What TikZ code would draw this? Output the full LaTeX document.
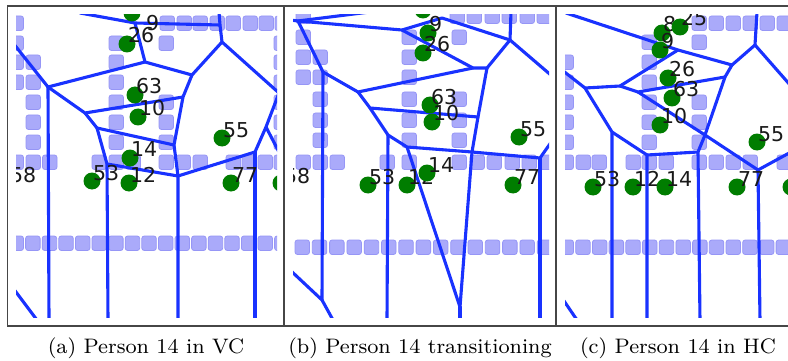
\documentclass[tikz,border=0pt]{standalone}
\usepackage{fontspec}
\newfontfamily\labfont{DejaVu Sans}
\usetikzlibrary{calc}
\definecolor{vorblue}{RGB}{25,50,255}
\definecolor{sqfill}{RGB}{170,170,250}
\definecolor{sqedge}{RGB}{150,150,246}
\definecolor{dotgreen}{RGB}{0,125,0}
\definecolor{framegray}{RGB}{70,70,70}
% blocks of floor tiles: every x of #1 with every y of #2
\newcommand\sqset[2]{\foreach \xx in {#1}{\foreach \yy in {#2}{\path[sq] (\xx,\yy) rectangle ++(14.5,14.5);}}}
% a row of tiles: start x, pitch, last index, y
\newcommand\sqrow[4]{\foreach \kk in {0,...,#3}{\path[sq] ({#1+#2*\kk},#4) rectangle ++(14.5,14.5);}}
% a person: name, x, y, number
\newcommand\person[4]{\node[pdot] (d#1) at (#2,#3) {}; \node[plab] (l#1) at ({#2+1},{#3-1}) {#4};}
\begin{document}
\begin{tikzpicture}[x=1pt,y=-1pt,
  sq/.style={fill=sqfill,draw=sqedge,line width=0.8pt,rounded corners=2.5pt},
  vor/.style={draw=vorblue,line width=3.1pt,line cap=round,line join=round},
  pdot/.style={circle,fill=dotgreen,draw=none,minimum size=17pt,inner sep=0pt},
  plab/.style={font={\labfont\fontsize{20.5}{20.5}\selectfont},anchor=base west,inner sep=0pt,text=black!90},
  panelframe/.style={draw=framegray,line width=1.7pt},
  captext/.style={font={\fontsize{8}{9.6}\selectfont},scale=2.62,anchor=base,inner sep=0pt}]
\useasboundingbox (0,0) rectangle (788,361);
\fill[white] (0,0) rectangle (788,361);

% ---------------- panel (a) ----------------
\begin{scope}
\clip (16,15) rectangle (277,317);
\sqset{160,177,193,210,226,243,259,275}{16}
\sqset{9}{16,36,55,75,155}
\sqset{26}{55,75,95,115,135,155}
\sqset{109}{36,55,75,95,115,135,155}
\sqset{159}{36,95,115,135,155}
\sqset{274}{36,55,75,95,115,135,155}
\sqset{42.5,92,126,176,193,226,242,258}{155}
\sqrow{9}{16.6}{16}{236}
\coordinate (a1) at (80,13);
\coordinate (a2) at (135,23);
\coordinate (a3) at (220,25);
\coordinate (a3t) at (219,12);
\coordinate (a4) at (222,42);
\coordinate (a5) at (192,75);
\coordinate (a6) at (279,93);
\coordinate (a7) at (145,62);
\coordinate (a8) at (48,87);
\coordinate (a0) at (13,43);
\coordinate (a9) at (183,97);
\coordinate (a10) at (85,113);
\coordinate (a11) at (97,128);
\coordinate (a12) at (174,145);
\coordinate (a13) at (178,176);
\coordinate (a14) at (107,164);
\coordinate (a15) at (255,152);
\coordinate (a16) at (266,127);
\coordinate (a16r) at (280,154);
\coordinate (a8b) at (49,320);
\coordinate (a14b) at (108,320);
\coordinate (a13b) at (178,320);
\coordinate (a15b) at (255,320);
\coordinate (a17) at (13,288);
\coordinate (a17b) at (37,320);
\draw[vor] (a1) -- (a2) -- (a3) -- (a4) -- (a6);
\draw[vor] (a3t) -- (a3);
\draw[vor] (a4) -- (a5) -- (a9) -- (a12) -- (a13) -- (a13b);
\draw[vor] (a2) -- (a7) -- (a5);
\draw[vor] (a0) -- (a8) -- (a7);
\draw[vor] (a8) -- (a8b);
\draw[vor] (a8) -- (a10) -- (a9);
\draw[vor] (a10) -- (a11) -- (a12);
\draw[vor] (a11) -- (a14) -- (a14b);
\draw[vor] (a14) -- (a13) -- (a15) -- (a16) -- (a6);
\draw[vor] (a16) -- (a16r);
\draw[vor] (a15) -- (a15b);
\draw[vor] (a17) -- (a17b);
\node[pdot] (atop) at (132,13) {};
\node[plab] (la9) at (146,31) {9};
\person{a26}{127}{44}{26}
\person{a63}{135}{95}{63}
\person{a10}{138}{117}{10}
\person{a14}{130}{158}{14}
\person{a55}{222}{138}{55}
\person{a53}{92}{181}{53}
\person{a12}{129}{183}{12}
\person{a77}{231}{183}{77}
\node[plab] (a58) at (10,182) {58};
\node[pdot] (aedge) at (281,183) {};
\end{scope}

% ---------------- panel (b) ----------------
\begin{scope}
\clip (293,15) rectangle (549,317);
\sqset{296}{9,30,50,70,155}
\sqset{313}{50,70,92,113,133,155}
\sqset{402}{30,50,70,92,113,133,155}
\sqset{452}{30,92,113,133,155}
\sqset{450,467,485,502,520,537}{9}
\sqset{330,380,470,487,505,522,540}{155}
\sqrow{295}{17.3}{14}{240}
\coordinate (b1) at (298,21);
\coordinate (b1l) at (290,20);
\coordinate (b1t) at (370,12);
\coordinate (b2) at (402,30);
\coordinate (b4) at (442,18);
\coordinate (b5) at (510,40);
\coordinate (b5t) at (511,12);
\coordinate (b5r) at (552,76);
\coordinate (b6) at (487,68);
\coordinate (b7) at (473,68);
\coordinate (b8) at (358,92);
\coordinate (b9) at (370,108);
\coordinate (b9r) at (478,117);
\coordinate (b10) at (388,135);
\coordinate (b12) at (407,147);
\coordinate (b11) at (472,152);
\coordinate (b13) at (540,158);
\coordinate (b13r) at (552,141);
\coordinate (bv) at (460,307);
\coordinate (b3) at (323,72);
\coordinate (b14) at (322,300);
\coordinate (b14l) at (290,270);
\coordinate (b14b) at (333,320);
\coordinate (b10b) at (387,320);
\coordinate (bvb) at (460,320);
\coordinate (b13b) at (540,320);
\draw[vor] (b1l) -- (b1) -- (b2) -- (b4) -- (b5) -- (b5r);
\draw[vor] (b1) -- (b1t);
\draw[vor] (b5t) -- (b5) -- (b6) -- (b7) -- (b2);
\draw[vor] (b1) -- (b3) -- (b8) -- (b7);
\draw[vor] (b8) -- (b9) -- (b9r);
\draw[vor] (b9) -- (b10) -- (b12) -- (b11);
\draw[vor] (b10) -- (b10b);
\draw[vor] (b6) -- (b9r) -- (b11) -- (b13) -- (b13r);
\draw[vor] (b13) -- (b13b);
\draw[vor] (b12) -- (bv) -- (b11);
\draw[vor] (bv) -- (bvb);
\draw[vor] (b3) -- (b14) -- (b14l);
\draw[vor] (b14) -- (b14b);
\node[pdot] (btop) at (423,10) {};
\person{b9}{428}{33}{9}
\person{b26}{423}{53}{26}
\person{b63}{430}{105}{63}
\person{b10}{432}{122}{10}
\person{b55}{519}{137}{55}
\person{b53}{368}{185}{53}
\person{b12}{407}{185}{12}
\person{b14}{427}{173}{14}
\person{b77}{513}{185}{77}
\node[plab] (b58) at (284,183) {58};
\end{scope}

% ---------------- panel (c) ----------------
\begin{scope}
\clip (565,15) rectangle (788,317);
\sqset{559}{55,75,95,115,135,155}
\sqset{642}{35,55,75,95,115,135,155}
\sqset{692}{16,35,95,115,135,155}
\sqset{709,726,743,760,777}{16}
\sqset{576,592,626,659,709,726,743,777}{155}
\sqrow{559}{16.7}{13}{240}
\coordinate (c1) at (678,50);
\coordinate (c1t) at (566,13);
\coordinate (c2) at (732,65);
\coordinate (ctop) at (755,45);
\coordinate (ctopt) at (757,12);
\coordinate (ctopr) at (791,86);
\coordinate (c2b) at (725,77);
\coordinate (c3) at (620,86);
\coordinate (c4) at (585,88);
\coordinate (c4l) at (562,70);
\coordinate (c5) at (638,92);
\coordinate (c6) at (612,132);
\coordinate (c6b) at (612,320);
\coordinate (c7) at (647,155);
\coordinate (c7b) at (647,320);
\coordinate (c8) at (698,152);
\coordinate (c8b) at (700,320);
\coordinate (c9) at (705,135);
\coordinate (c10) at (758,170);
\coordinate (c10r) at (791,152);
\coordinate (c10b) at (760,320);
\coordinate (c11) at (562,298);
\coordinate (c11b) at (577,320);
\draw[vor] (c1t) -- (c1) -- (c2) -- (ctop) -- (ctopt);
\draw[vor] (ctop) -- (ctopr);
\draw[vor] (c2) -- (c2b) -- (c9) -- (c8) -- (c8b);
\draw[vor] (c1) -- (c3) -- (c4) -- (c4l);
\draw[vor] (c3) -- (c5) -- (c2b);
\draw[vor] (c5) -- (c9) -- (c10) -- (c10r);
\draw[vor] (c10) -- (c10b);
\draw[vor] (c4) -- (c6) -- (c6b);
\draw[vor] (c6) -- (c7) -- (c7b);
\draw[vor] (c7) -- (c8);
\draw[vor] (c11) -- (c11b);
\person{c8}{662}{33}{8}
\person{c25}{680}{27}{25}
\person{c9}{660}{50}{9}
\person{c26}{668}{78}{26}
\person{c63}{672}{98}{63}
\person{c10}{660}{125}{10}
\person{c55}{757}{142}{55}
\person{c53}{593}{187}{53}
\person{c12}{633}{187}{12}
\person{c14}{665}{187}{14}
\person{c77}{737}{187}{77}
\node[pdot] (cedge) at (791,187) {};
\end{scope}

% panel frames
\draw[panelframe] (7.5,6) rectangle (284,326);
\draw[panelframe] (284,6) rectangle (556,326);
\draw[panelframe] (556,6) rectangle (800,326);

% sub-captions
\node[captext] (capa) at (146,353) {(a) Person 14 in VC};
\node[captext] (capb) at (420,353) {(b) Person 14 transitioning};
\node[captext] (capc) at (678,353) {(c) Person 14 in HC};
\end{tikzpicture}
\end{document}
